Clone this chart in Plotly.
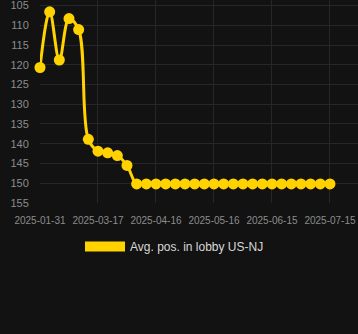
import plotly.graph_objects as go

dates = ["2025-02-15", "2025-02-20", "2025-02-25", "2025-03-02", "2025-03-07",
         "2025-03-12", "2025-03-17", "2025-03-22", "2025-03-27", "2025-04-01",
         "2025-04-06", "2025-04-11", "2025-04-16", "2025-04-21", "2025-04-26",
         "2025-05-01", "2025-05-06", "2025-05-11", "2025-05-16", "2025-05-21",
         "2025-05-26", "2025-05-31", "2025-06-05", "2025-06-10", "2025-06-15",
         "2025-06-20", "2025-06-25", "2025-06-30", "2025-07-05", "2025-07-10",
         "2025-07-15"]
positions = [120.7, 106.6, 118.8, 108.3, 111.1, 138.9, 141.9, 142.3, 143.0, 145.5,
             150.2, 150.2, 150.2, 150.2, 150.2, 150.2, 150.2, 150.2, 150.2, 150.2,
             150.2, 150.2, 150.2, 150.2, 150.2, 150.2, 150.2, 150.2, 150.2, 150.2,
             150.2]
series_name = "Avg. pos. in lobby US-NJ"
x_tick_vals = ["2025-02-15", "2025-03-17", "2025-04-16", "2025-05-16", "2025-06-15", "2025-07-15"]
x_tick_text = ["2025-01-31", "2025-03-17", "2025-04-16", "2025-05-16", "2025-06-15", "2025-07-15"]
y_tick_vals = [105, 110, 115, 120, 125, 130, 135, 140, 145, 150, 155]

COLOR = "#FFD200"
BG = "#121212"
GRID = "#262626"

fig = go.Figure()
fig.add_trace(go.Scatter(
    x=dates, y=positions, mode="lines+markers", name=series_name,
    line=dict(color=COLOR, width=3, shape="spline", smoothing=1),
    marker=dict(color=COLOR, size=11),
    showlegend=False, cliponaxis=False,
))
# legend proxy (rectangle swatch)
fig.add_trace(go.Scatter(
    x=[None], y=[None], mode="lines", name=series_name,
    line=dict(color=COLOR, width=12),
))

fig.update_layout(
    width=358, height=334,
    paper_bgcolor=BG, plot_bgcolor=BG,
    margin=dict(l=40, r=0, t=0, b=131),
    font=dict(family="Liberation Sans, Arial, sans-serif", color="#8c8c8c"),
    xaxis=dict(
        type="date", range=["2025-02-15", "2025-07-29 12:00"],
        tickvals=x_tick_vals, ticktext=x_tick_text,
        showgrid=True, gridcolor=GRID, gridwidth=1,
        zeroline=False, showline=False,
        ticks="outside", ticklen=8, tickcolor="rgba(0,0,0,0)",
        tickfont=dict(size=10, color="#8c8c8c"),
        ticklabeloverflow="allow",
    ),
    yaxis=dict(
        range=[155.02, 103.6], tickvals=y_tick_vals,
        showgrid=True, gridcolor=GRID, gridwidth=1,
        zeroline=False, showline=False,
        ticks="outside", ticklen=8, tickcolor="rgba(0,0,0,0)",
        tickfont=dict(size=11, color="#8c8c8c"),
        ticklabeloverflow="allow",
    ),
    legend=dict(
        orientation="h", xref="container", yref="container",
        x=80 / 358, xanchor="left", y=1 - 232 / 334, yanchor="top",
        font=dict(size=12, color="#d8d8d8"), itemwidth=40,
        bgcolor="rgba(0,0,0,0)",
    ),
)

fig.write_html("out.html")
